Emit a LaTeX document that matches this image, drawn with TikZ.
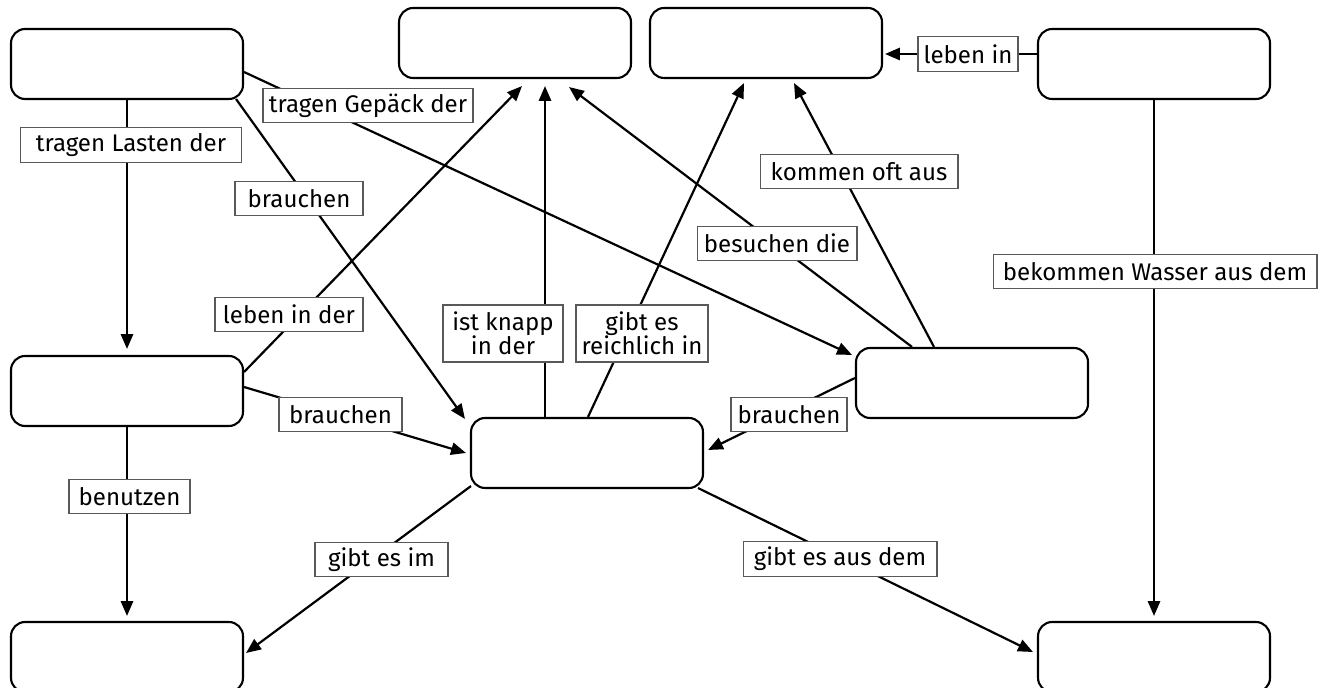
\documentclass[tikz,border=0pt]{standalone}
\usepackage{fontspec}
\setmainfont{Fira Sans}
\usepackage{tikz}
\usetikzlibrary{arrows.meta, calc}

\begin{document}
\begin{tikzpicture}[x=0.02cm, y=-0.02cm,
    concept/.style={draw, line width=1.2pt, rounded corners=8pt, fill=white,
      minimum width=4.64cm, minimum height=1.4cm, inner sep=0pt},
    link/.style={draw=black!65, line width=0.6pt, fill=white, inner xsep=2pt, inner ysep=0pt,
      minimum height=0.69cm, align=center, font=\fontsize{13.7}{13.8}\selectfont},
    arr/.style={line width=1.25pt, -{Triangle[length=8.5pt, width=7pt]}}]
    \useasboundingbox (0,0) rectangle (1324,688);

    % concepts
    \node[concept] (a) at (127,64) {};
    \node[concept] (b) at (515,43) {};
    \node[concept] (c) at (766,43) {};
    \node[concept] (d) at (1154,64) {};
    \node[concept] (e) at (127,391) {};
    \node[concept] (f) at (587,453) {};
    \node[concept] (g) at (972,383) {};
    \node[concept] (h) at (127,657) {};
    \node[concept] (i) at (1154,657) {};

    % connectors
    \draw[arr] (a.south) -- ($(e.north)+(0,-6)$);
    \draw[arr] ($(a.east)+(0,8)$) -- ($(g.north west)+(-3,8)$);
    \draw[arr] ($(a.south east)+(-8,-1)$) -- ($(f.north west)+(-5,2)$);
    \draw[arr] ($(e.east)+(0,-19)$) -- ($(b.south)+(7,7)$);
    \draw[arr] ($(e.east)+(0,-4)$) -- ($(f.west)+(-4,0)$);
    \draw[arr] (e.south) -- ($(h.north)+(0,-5)$);
    \draw[arr] ($(f.north)+(-42,0)$) -- ($(b.south)+(30,7)$);
    \draw[arr] ($(f.north)+(1,0)$) -- ($(c.south)+(-22,4)$);
    \draw[arr] ($(g.north)+(-60,0)$) -- ($(b.south)+(54,8)$);
    \draw[arr] ($(g.north)+(-38,0)$) -- ($(c.south)+(28,4)$);
    \draw[arr] ($(g.west)+(0,-5)$) -- ($(f.east)+(4,-3)$);
    \draw[arr] ($(d.west)+(0,-10)$) -- ($(c.east)+(2,11)$);
    \draw[arr] (d.south) -- ($(i.north)+(0,-5)$);
    \draw[arr] ($(f.south west)+(1,-3)$) -- ($(h.east)+(2,-4)$);
    \draw[arr] ($(f.south east)+(-6,-1)$) -- ($(i.west)+(-4,-5)$);

    % linking phrases
    \node[link, minimum width=4.42cm] (ae) at (131,145) {tragen Lasten der};
    \node[link, minimum width=4.2cm] (ag) at (368,105.5) {tragen Gepäck der};
    \node[link, minimum width=2.56cm] (af) at (299,198.5) {brauchen};
    \node[link, minimum width=2.96cm] (eb) at (289,314.5) {leben in der};
    \node[link, minimum width=2.46cm] (ef) at (340.5,414.5) {brauchen};
    \node[link, minimum width=2.42cm] (eh) at (129.5,496.5) {benutzen};
    \node[link, minimum width=2.4cm, minimum height=1.14cm] (fb) at (503,333.5) {ist knapp\\in der};
    \node[link, minimum width=2.64cm, minimum height=1.14cm] (fc) at (642,333.5) {gibt es\\reichlich in};
    \node[link, minimum width=3.2cm] (gb) at (777,243.5) {besuchen die};
    \node[link, minimum width=3.96cm] (gc) at (859,171.5) {kommen oft aus};
    \node[link, minimum width=2.32cm] (gf) at (789,414.5) {brauchen};
    \node[link, minimum width=2cm] (dc) at (968,54) {leben in};
    \node[link, minimum width=6.48cm] (di) at (1155,271.5) {bekommen Wasser aus dem};
    \node[link, minimum width=2.66cm] (fh) at (381.5,559.5) {gibt es im};
    \node[link, minimum width=3.88cm] (fi) at (840,559) {gibt es aus dem};
\end{tikzpicture}
\end{document}
